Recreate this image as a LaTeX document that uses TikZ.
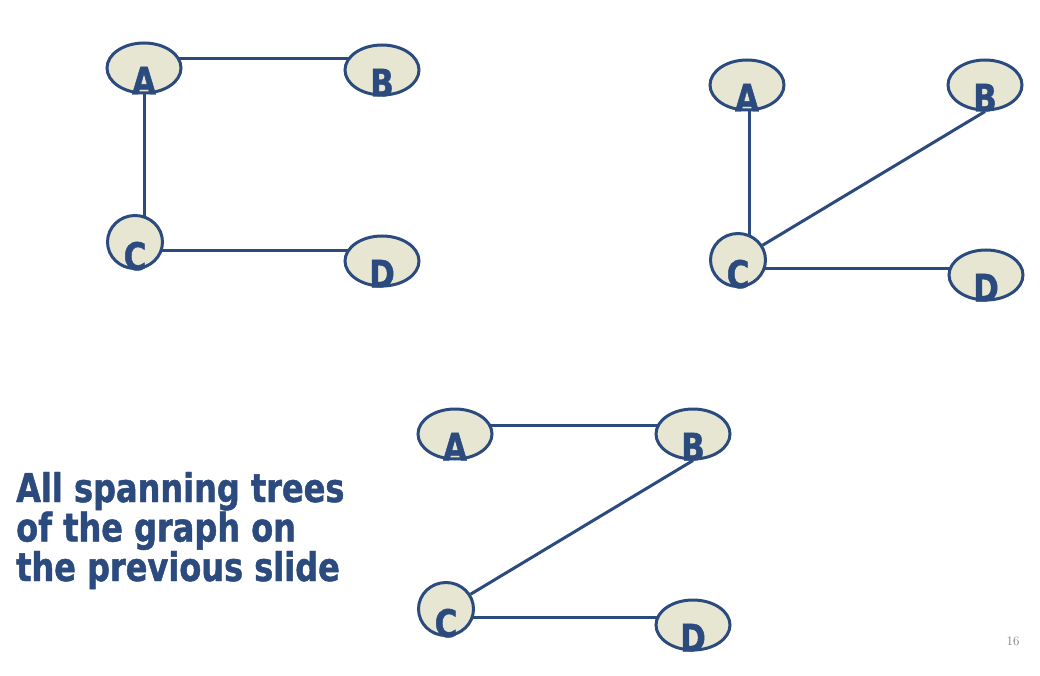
\documentclass[tikz,border=0pt]{standalone}
\usepackage{fontspec}
\usetikzlibrary{shapes.geometric,calc,backgrounds}
\newfontfamily\slidefont{DejaVu Sans Bold}[FakeStretch=0.81,FakeBold=1.2]
\definecolor{slideblue}{HTML}{2B4A7E}
\definecolor{vertexfill}{HTML}{E6E6D2}
\definecolor{pagegray}{HTML}{808080}

\begin{document}
\begin{tikzpicture}[x=1pt,y=-1pt,
  vertex/.style={ellipse,draw=slideblue,fill=vertexfill,line width=3pt,
    minimum width=74pt,minimum height=50pt,inner sep=0pt},
  vertexc/.style={vertex,minimum width=55pt,minimum height=53pt},
  letter/.style={label={[anchor=base,inner sep=0pt,text=slideblue,
    font=\slidefont\fontsize{38}{38}\selectfont]below:#1}},
  edge/.style={draw=slideblue,line width=3pt},
  caption/.style={align=left,inner sep=0pt,text=slideblue,
    font=\slidefont\fontsize{39.5}{39.5}\selectfont},
  pagenum/.style={inner sep=0pt,text=pagegray,font=\fontsize{13}{13}\selectfont}]

\useasboundingbox (0,0) rectangle (1040,676);

%% first tree
\node[vertex,letter=A]  (A1) at (144,68)  {};
\node[vertex,letter=B]  (B1) at (382,70)  {};
\node[vertexc,letter=C] (C1) at (135,242) {};
\node[vertex,letter=D]  (D1) at (382,261) {};

%% second tree
\node[vertex,letter=A]  (A2) at (747,85)  {};
\node[vertex,letter=B]  (B2) at (985,85)  {};
\node[vertexc,letter=C] (C2) at (738,260) {};
\node[vertex,letter=D]  (D2) at (986,275) {};

%% third tree
\node[vertex,letter=A]  (A3) at (455,434) {};
\node[vertex,letter=B]  (B3) at (693,434) {};
\node[vertexc,letter=C] (C3) at (446,609) {};
\node[vertex,letter=D]  (D3) at (693,625) {};

%% text
\node[caption,anchor=base west] (title) at (16,581)
  {All spanning trees\\of the graph on\\the previous slide};
\node[pagenum] (page) at (1013,641) {16};

%%% edges, behind the vertices
\begin{scope}[on background layer]
\fill[white] (0,0) rectangle (1040,676);
\draw[edge] ($(A1)+(0,-9)$) -- ($(B1)+(0,-11)$);   %% AB
\draw[edge] (A1) -- ($(C1)+(9,0)$);                %% AC
\draw[edge] ($(C1)+(0,8)$) -- ($(D1)+(0,-11)$);    %% CD

\draw[edge] ($(A2)+(2,0)$) -- ($(C2)+(11,0)$);     %% AC
\draw[edge] (C2) -- (B2.south);                    %% CB
\draw[edge] ($(C2)+(0,8)$) -- ($(D2)+(0,-7)$);     %% CD

\draw[edge] ($(A3)+(0,-9)$) -- ($(B3)+(0,-9)$);    %% AB
\draw[edge] (B3.south) -- (C3);                    %% BC
\draw[edge] ($(C3)+(0,8)$) -- ($(D3)+(0,-8)$);     %% CD
\end{scope}
\end{tikzpicture}
\end{document}
